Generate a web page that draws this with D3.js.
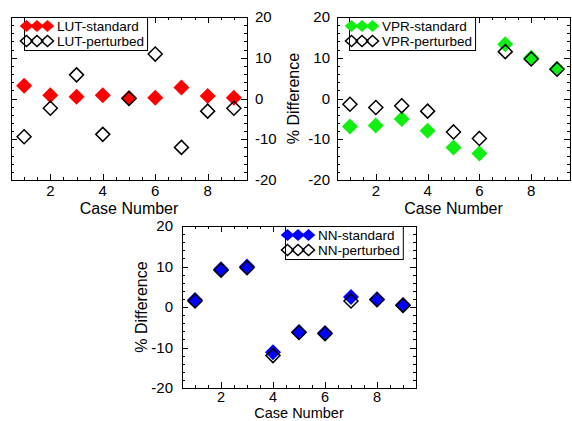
<!DOCTYPE html>
<html>
<head>
<meta charset="utf-8">
<script src="https://cdn.jsdelivr.net/npm/d3@7"></script>
<style>
  body { margin: 0; background: #fff; }
  svg { display: block; }
  text { font-family: "Liberation Sans", Arial, Helvetica, sans-serif; fill: #000; }
</style>
</head>
<body>
<svg id="chart" width="572" height="421"></svg>
<script>
// ---- data ----
const cases = [1, 2, 3, 4, 5, 6, 7, 8, 9];
const lutStandard  = [3.1, 0.8, 0.4, 0.8, 0.1, 0.2, 2.7, 0.6, 0.2];
const lutPerturbed = [-9.4, -2.4, 5.8, -8.8, 0.0, 10.9, -12.0, -3.1, -2.4];
const vprStandard  = [-6.9, -6.6, -5.0, -7.9, -12.0, -13.5, 13.3, 10.0, 7.3];
const vprPerturbed = [-1.4, -2.2, -1.8, -3.1, -8.2, -9.8, 11.5, 9.7, 7.2];
const nnStandard   = [1.7, 9.3, 10.0, -11.2, -6.2, -6.4, 2.5, 1.9, 0.5];
const nnPerturbed  = [1.5, 9.1, 9.7, -12.0, -6.3, -6.6, 1.5, 1.8, 0.4];
const xTickLabels = [2, 4, 6, 8];
const yTickLabels = [-20, -10, 0, 10, 20];
const seriesNames = [["LUT-standard", "LUT-perturbed"], ["VPR-standard", "VPR-perturbed"], ["NN-standard", "NN-perturbed"]];

const svg = d3.select("#chart");

const panels = [
  { x0: 11,  x1: 247, y0: 17,  y1: 180, std: lutStandard, pert: lutPerturbed, color: "#ff0000", names: seriesNames[0], yside: "right", ylabel: false, legendDx: 13, tickDy: 16, tickFs: 15, titleDy: 34, titleFs: 16 },
  { x0: 337, x1: 570, y0: 17,  y1: 180, std: vprStandard, pert: vprPerturbed, color: "#11ee11", names: seriesNames[1], yside: "left", ylabel: true, ylabelX: 293, labelGap: 7, legendDx: 12, tickDy: 16, tickFs: 15, titleDy: 34, titleFs: 16 },
  { x0: 182, x1: 416, y0: 226, y1: 388, std: nnStandard,  pert: nnPerturbed,  color: "#0000ff", names: seriesNames[2], yside: "left", ylabel: true, ylabelX: 141, labelGap: 9, legendDx: 103, tickDy: 14, tickFs: 14.5, titleDy: 29.5, titleFs: 14.5 }
];

function diamond(hw, hh) {
  if (hh === undefined) hh = hw;
  return `M0,${-hh}L${hw},0L0,${hh}L${-hw},0Z`;
}

panels.forEach(p => {
  const x = d3.scaleLinear().domain([0.5, 9.5]).range([p.x0, p.x1]);
  const y = d3.scaleLinear().domain([-20, 20]).range([p.y1, p.y0]);
  const g = svg.append("g");

  // minor & major ticks
  const xMinor = d3.range(1, 9.51, 0.5).filter(v => v < 9.5);
  const yMinor = d3.range(-18, 19, 2);
  const tk = g.append("g").attr("stroke", "#000").attr("stroke-width", 1);
  xMinor.forEach(v => {
    const major = xTickLabels.includes(v);
    const len = major ? 6 : 3;
    const xx = Math.round(x(v)) + 0.5;
    tk.append("line").attr("x1", xx).attr("x2", xx).attr("y1", p.y1).attr("y2", p.y1 - len);
    tk.append("line").attr("x1", xx).attr("x2", xx).attr("y1", p.y0).attr("y2", p.y0 + len);
  });
  yMinor.forEach(v => {
    const major = v % 10 === 0;
    const len = major ? 6 : 3;
    const yy = Math.round(y(v)) + 0.5;
    tk.append("line").attr("x1", p.x0).attr("x2", p.x0 + len).attr("y1", yy).attr("y2", yy);
    tk.append("line").attr("x1", p.x1).attr("x2", p.x1 - len).attr("y1", yy).attr("y2", yy);
  });

  // frame
  g.append("rect").attr("x", p.x0 + 0.5).attr("y", p.y0 + 0.5)
    .attr("width", p.x1 - p.x0).attr("height", p.y1 - p.y0)
    .attr("fill", "none").attr("stroke", "#000").attr("stroke-width", 1);

  // x tick labels
  g.selectAll(".xl").data(xTickLabels).enter().append("text")
    .attr("x", d => x(d)).attr("y", p.y1 + p.tickDy)
    .attr("text-anchor", "middle").attr("font-size", p.tickFs).text(d => d);
  g.append("text").attr("x", (p.x0 + p.x1) / 2).attr("y", p.y1 + p.titleDy)
    .attr("text-anchor", "middle").attr("font-size", p.titleFs).text("Case Number");

  // y tick labels
  if (p.yside === "right") {
    g.selectAll(".yl").data(yTickLabels).enter().append("text")
      .attr("x", p.x1 + 8).attr("y", d => y(d) + 5)
      .attr("text-anchor", "start").attr("font-size", 15).text(d => d);
  } else {
    g.selectAll(".yl").data(yTickLabels).enter().append("text")
      .attr("x", p.x0 - p.labelGap).attr("y", d => y(d) + 5)
      .attr("text-anchor", "end").attr("font-size", 15).text(d => d);
  }
  if (p.ylabel) {
    const cy = (p.y0 + p.y1) / 2;
    g.append("text").attr("transform", `translate(${p.ylabelX + 6},${cy}) rotate(-90)`)
      .attr("text-anchor", "middle").attr("font-size", 16).text("% Difference");
  }

  // data markers
  g.selectAll(".std").data(cases).enter().append("path")
    .attr("d", diamond(8))
    .attr("transform", (d, i) => `translate(${x(d)},${y(p.std[i])})`)
    .attr("fill", p.color);
  g.selectAll(".pert").data(cases).enter().append("path")
    .attr("d", diamond(7))
    .attr("transform", (d, i) => `translate(${x(d)},${y(p.pert[i])})`)
    .attr("fill", "none").attr("stroke", "#000").attr("stroke-width", 1.5);

  // legend
  const lx = p.x0 + p.legendDx;
  const ly = p.y0;
  const lg = g.append("g");
  const box = lg.append("rect").attr("x", lx + 0.5).attr("y", ly + 0.5)
    .attr("height", 33).attr("fill", "#fff").attr("stroke", "#000").attr("stroke-width", 1);
  const rows = [ly + 9, ly + 24];
  let maxW = 0;
  p.names.forEach((name, r) => {
    [2.5, 13, 23.5].forEach(dx => {
      const m = lg.append("path").attr("d", r === 0 ? diamond(6.8, 6) : diamond(6, 5.5))
        .attr("transform", `translate(${lx + dx},${rows[r]})`);
      if (r === 0) m.attr("fill", p.color);
      else m.attr("fill", "none").attr("stroke", "#000").attr("stroke-width", 1.5);
    });
    const t = lg.append("text").attr("x", lx + 33).attr("y", rows[r] + 5)
      .attr("font-size", 13.5).text(name);
    maxW = Math.max(maxW, t.node().getComputedTextLength());
  });
  box.attr("width", 33 + maxW + 3);
});
</script>
</body>
</html>
